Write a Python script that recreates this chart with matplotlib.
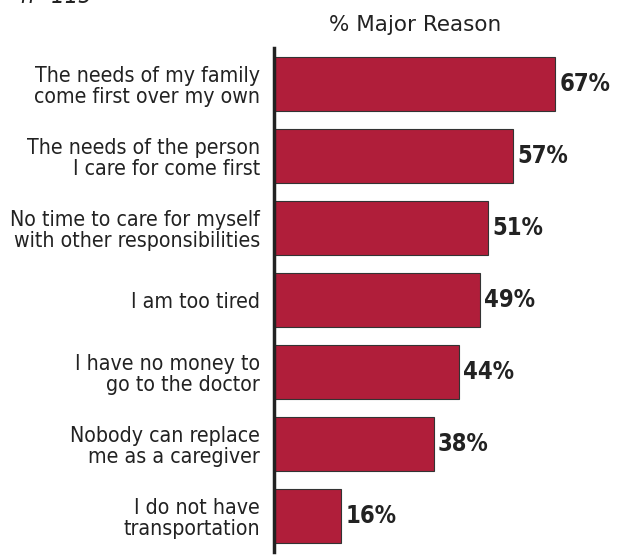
import matplotlib
matplotlib.use("Agg")
import matplotlib.pyplot as plt

plt.rcParams['font.family'] = ['DejaVu Sans']
plt.rcParams['font.stretch'] = 'condensed'

reasons = [
    "The needs of my family\ncome first over my own",
    "The needs of the person\nI care for come first",
    "No time to care for myself\nwith other responsibilities",
    "I am too tired",
    "I have no money to\ngo to the doctor",
    "Nobody can replace\nme as a caregiver",
    "I do not have\ntransportation",
]
values = [67, 57, 51, 49, 44, 38, 16]

fig = plt.figure(figsize=(6.2, 5.58), dpi=100)
ax = fig.add_axes([0.442, 0.011, 80 * 4.2 / 620, 0.903])

pos = list(range(len(values)))[::-1]
ax.barh(pos, values, height=0.74, color="#B01E3A", edgecolor="#333333", linewidth=0.8)
for p, v in zip(pos, values):
    ax.text(v + 1.0, p, "%d%%" % v, va="center", ha="left", fontsize=17, fontweight="bold", color="#222222")

ax.set_xlim(0, 80)
ax.set_ylim(-0.5, 6.5)
ax.set_yticks(pos)
ax.set_yticklabels(reasons, fontsize=15.3, color="#222222", linespacing=1.05)
ax.tick_params(axis="y", length=0, pad=10)
ax.set_xticks([])
for s in ["top", "right", "bottom"]:
    ax.spines[s].set_visible(False)
ax.spines["left"].set_linewidth(2.5)
ax.spines["left"].set_color("#222222")

fig.text(0.67, 0.955, "% Major Reason", ha="center", va="center", fontsize=15.5, color="#222222",
         stretch="normal")
fig.text(0.09, 1.008, "n=115", ha="center", va="center", fontsize=17, style="italic", color="#222222")

fig.savefig("out.png", dpi=100)
